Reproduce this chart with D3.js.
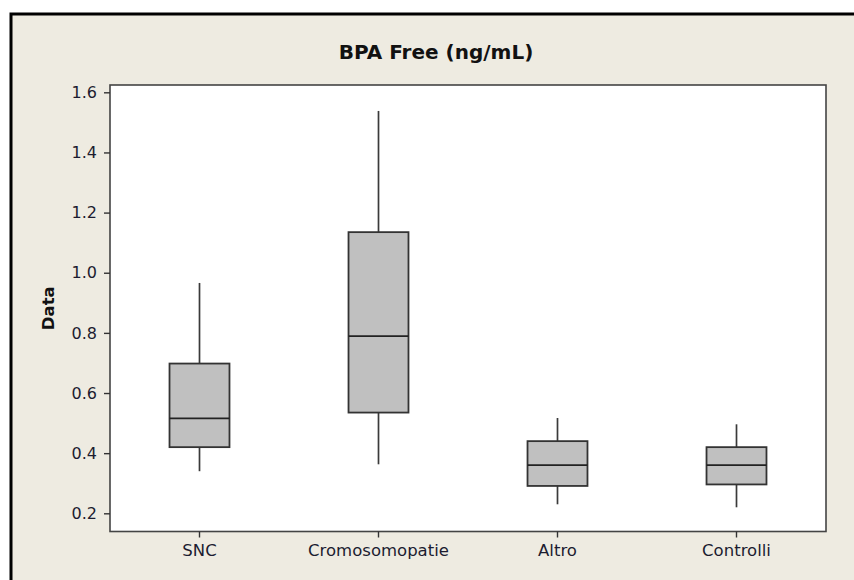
<!DOCTYPE html>
<html>
<head>
<meta charset="utf-8">
<script src="https://cdn.jsdelivr.net/npm/d3@7"></script>
<style>
  html, body { margin: 0; padding: 0; background: #ffffff; }
  svg { display: block; }
</style>
</head>
<body>
<svg id="chart" width="854" height="580"></svg>
<script>
// Box plot summary of free BPA by group
const categories = ["SNC", "Cromosomopatie", "Altro", "Controlli"];
const whiskerLow  = [0.340, 0.363, 0.230, 0.220];
const q1          = [0.420, 0.535, 0.291, 0.296];
const median      = [0.516, 0.789, 0.360, 0.360];
const q3          = [0.698, 1.135, 0.440, 0.420];
const whiskerHigh = [0.966, 1.538, 0.517, 0.496];
const yTicks = [0.2, 0.4, 0.6, 0.8, 1.0, 1.2, 1.4, 1.6];

const svg = d3.select("#chart");
const W = 854, H = 580;
const plot = { left: 110, right: 826, top: 85, bottom: 531.5 };

// Outer panel with heavy black border
svg.append("rect")
  .attr("x", 11).attr("y", 14)
  .attr("width", W + 20).attr("height", H + 20)
  .attr("fill", "#eeebe1")
  .attr("stroke", "#000").attr("stroke-width", 3);

const x = d3.scaleBand()
  .domain(categories)
  .range([plot.left, plot.right])
  .paddingInner(0.665)
  .paddingOuter(0.3325);

const y = d3.scaleLinear()
  .domain([0.1395, 1.6243])
  .range([plot.bottom, plot.top]);

// Plot area
svg.append("rect")
  .attr("x", plot.left).attr("y", plot.top)
  .attr("width", plot.right - plot.left)
  .attr("height", plot.bottom - plot.top)
  .attr("fill", "#ffffff")
  .attr("stroke", "#444").attr("stroke-width", 1.6);

const font = "'DejaVu Sans', Verdana, sans-serif";

// Y axis
const yAxis = svg.append("g")
  .attr("transform", `translate(${plot.left},0)`)
  .call(d3.axisLeft(y).tickValues(yTicks).tickFormat(d3.format(".1f")).tickSize(6).tickPadding(7));
yAxis.select(".domain").remove();
yAxis.selectAll(".tick line").attr("stroke", "#333").attr("stroke-width", 1.4);
yAxis.selectAll(".tick text")
  .attr("fill", "#1c1c30")
  .style("font-family", font).style("font-size", "16px");

// X axis
const xAxis = svg.append("g")
  .attr("transform", `translate(0,${plot.bottom})`)
  .call(d3.axisBottom(x).tickSize(6).tickPadding(7));
xAxis.select(".domain").remove();
xAxis.selectAll(".tick line").attr("stroke", "#333").attr("stroke-width", 1.4);
xAxis.selectAll(".tick text")
  .attr("fill", "#1c1c30")
  .style("font-family", font).style("font-size", "16.5px");

// Boxes
const rows = categories.map((c, i) => ({
  c, lo: whiskerLow[i], q1: q1[i], med: median[i], q3: q3[i], hi: whiskerHigh[i]
}));
const g = svg.append("g");
const bw = x.bandwidth();

g.selectAll(".whisker-hi").data(rows).join("line")
  .attr("x1", d => x(d.c) + bw / 2).attr("x2", d => x(d.c) + bw / 2)
  .attr("y1", d => y(d.q3)).attr("y2", d => y(d.hi))
  .attr("stroke", "#3a3a3a").attr("stroke-width", 1.7);

g.selectAll(".whisker-lo").data(rows).join("line")
  .attr("x1", d => x(d.c) + bw / 2).attr("x2", d => x(d.c) + bw / 2)
  .attr("y1", d => y(d.q1)).attr("y2", d => y(d.lo))
  .attr("stroke", "#3a3a3a").attr("stroke-width", 1.7);

g.selectAll(".box").data(rows).join("rect")
  .attr("x", d => x(d.c)).attr("width", bw)
  .attr("y", d => y(d.q3)).attr("height", d => y(d.q1) - y(d.q3))
  .attr("fill", "#c0c0c0")
  .attr("stroke", "#333").attr("stroke-width", 1.8);

g.selectAll(".median").data(rows).join("line")
  .attr("x1", d => x(d.c)).attr("x2", d => x(d.c) + bw)
  .attr("y1", d => y(d.med)).attr("y2", d => y(d.med))
  .attr("stroke", "#222").attr("stroke-width", 1.8);

// Title
svg.append("text")
  .attr("x", 436).attr("y", 59)
  .attr("text-anchor", "middle")
  .style("font-family", font).style("font-size", "20px").style("font-weight", "bold")
  .attr("fill", "#111")
  .text("BPA Free (ng/mL)");

// Y axis title
svg.append("text")
  .attr("transform", `translate(54,${(plot.top + plot.bottom) / 2}) rotate(-90)`)
  .attr("text-anchor", "middle")
  .style("font-family", font).style("font-size", "16.5px").style("font-weight", "bold")
  .attr("fill", "#111")
  .text("Data");
</script>
</body>
</html>
